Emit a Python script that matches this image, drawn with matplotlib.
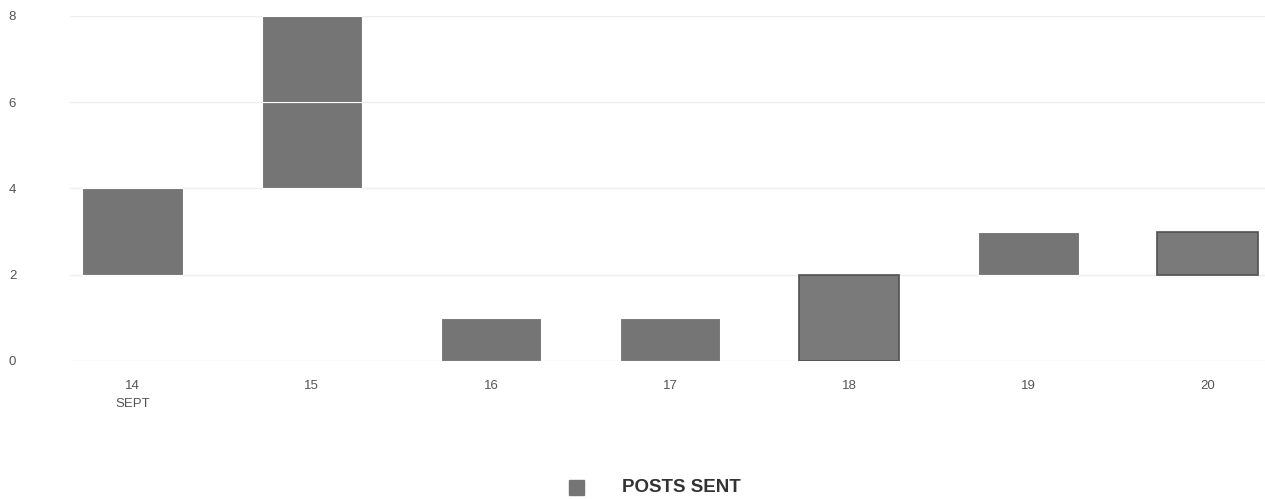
import matplotlib.pyplot as plt
import numpy as np

plt.rcParams['font.family'] = ['Liberation Sans', 'DejaVu Sans']

# Floating bar segments per day: (day index, low, high)
days = ['14\nSEPT', '15', '16', '17', '18', '19', '20']
seg_day = [0, 1, 1, 2, 3, 4, 5, 6]
seg_low = [2, 4, 6, 0, 0, 0, 2, 2]
seg_high = [4, 6, 8, 1, 1, 2, 3, 3]
outlined = [False, False, False, False, False, True, False, True]
yticks = [0, 2, 4, 6, 8]

fig = plt.figure(figsize=(12.65, 4.99), dpi=100)
ax = fig.add_axes([0.0553, 0.2766, 0.9447, 0.6914])

for d, lo, hi, ol in zip(seg_day, seg_low, seg_high, outlined):
    if ol:
        ax.bar(d, hi - lo, bottom=lo, width=0.56, color='#7a7a7a',
               edgecolor='#505050', linewidth=1.2, zorder=3)
    else:
        ax.bar(d, hi - lo, bottom=lo, width=0.56, color='#757575',
               edgecolor='white', linewidth=0.8, zorder=3)

ax.set_xlim(-0.35, 6.32)
ax.set_ylim(0, 8)
ax.set_yticks(yticks)
ax.set_xticks(range(len(days)))
ax.set_xticklabels(days, fontsize=9.5, color='#555555', linespacing=1.6)
ax.tick_params(axis='y', labelsize=9.5, labelcolor='#555555', length=0, pad=44)
ax.tick_params(axis='x', length=0, pad=14)
for lbl in ax.get_yticklabels():
    lbl.set_horizontalalignment('left')

ax.grid(axis='y', color='#eeeeee', linewidth=1, zorder=0)
for s in ax.spines.values():
    s.set_visible(False)

# legend
fig.patches.append(plt.Rectangle((569 / 1265, 1 - 495 / 499), 15 / 1265, 15 / 499,
                                 transform=fig.transFigure, color='#757575'))
fig.text(622 / 1265, 1 - 487 / 499, 'POSTS SENT', fontsize=13.5, fontweight='bold',
         color='#333333', va='center', ha='left')

fig.savefig('out.png', dpi=100, facecolor='white')
